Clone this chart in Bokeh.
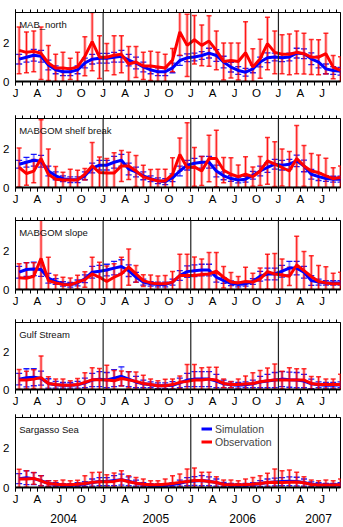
from bokeh.plotting import figure
from bokeh.models import (Range1d, FixedTicker, LinearAxis, Span, Label,
                          ColumnDataSource, Legend, LegendItem)
from bokeh.layouts import column
from bokeh.embed import file_html
from bokeh.resources import INLINE

FONT = "Liberation Sans"

# ---- data -------------------------------------------------------------
n_months = 45  # Jan 2004 .. Sep 2007, monthly means
month_x = [i + 0.5 for i in range(n_months)]

quarter_ticks = [0, 3, 6, 9, 12, 15, 18, 21, 24, 27, 30, 33, 36, 39, 42]
quarter_labels = ["J", "A", "J", "O", "J", "A", "J", "O", "J", "A", "J", "O", "J", "A", "J"]
month_ticks = list(range(0, 45))
year_boundaries = [12, 24, 36]
year_pos = [6.6, 19.2, 31.1, 41.5]
year_labels = ["2004", "2005", "2006", "2007"]

names = ["MAB_north", "MABGOM shelf break", "MABGOM slope", "Gulf Stream", "Sargasso Sea"]

obs_mab_north = [1.6, 1.5, 1.55, 1.45, 0.95, 0.7, 0.7, 0.65, 0.75, 1.3, 2.05, 1.25,
                 1.25, 1.35, 1.4, 0.9, 1.0, 0.8, 0.8, 0.75, 0.7, 1.1,
                 2.55, 1.86, 2.15, 1.86, 2.08, 1.6, 1.03, 1.08, 1.03, 1.48, 0.74, 1.17,
                 1.95, 1.5, 1.4, 1.4, 1.5, 1.43, 1.26, 1.25, 1.43, 0.74, 0.57]
obs_err_mab_north = [1.2, 1.05, 1.05, 1.35, 0.9, 0.7, 0.8, 0.55, 0.75, 1.0, 1.5, 1.1,
                     0.7, 1.0, 0.95, 0.9, 0.8, 0.7, 0.75, 0.75, 0.7, 0.6,
                     1.2, 1.6, 1.25, 1.05, 1.3, 1.0, 0.95, 0.9, 0.95, 1.6, 0.95, 1.0,
                     1.35, 1.1, 1.0, 1.05, 1.1, 1.05, 0.9, 0.9, 1.05, 0.6, 0.7]
sim_mab_north = [1.15, 1.25, 1.35, 1.3, 0.85, 0.6, 0.5, 0.5, 0.6, 0.95, 1.15, 1.2,
                 1.2, 1.25, 1.3, 1.1, 0.95, 0.75, 0.6, 0.5, 0.5, 0.7,
                 1.08, 1.22, 1.26, 1.34, 1.46, 1.34, 1.0, 0.74, 0.57, 0.48, 0.65, 1.0,
                 1.22, 1.26, 1.22, 1.26, 1.46, 1.43, 1.17, 1.0, 0.65, 0.57, 0.53]
sim_err_mab_north = [0.25, 0.25, 0.3, 0.3, 0.25, 0.2, 0.2, 0.2, 0.2, 0.25, 0.25, 0.25,
                     0.25, 0.25, 0.3, 0.3, 0.3, 0.25, 0.2, 0.2, 0.2, 0.25,
                     0.25, 0.2, 0.2, 0.2, 0.25, 0.3, 0.3, 0.25, 0.2, 0.2, 0.2, 0.25, 0.25, 0.2,
                     0.2, 0.2, 0.25, 0.25, 0.3, 0.3, 0.25, 0.2, 0.2]

obs_shelf = [1.03, 0.72, 0.84, 1.49, 0.68, 0.43, 0.39, 0.39, 0.39, 0.68, 1.11, 0.77,
             0.74, 0.74, 1.11, 1.11, 0.85, 0.55, 0.43, 0.34, 0.34, 0.68,
             1.7, 1.03, 1.06, 0.85, 1.49, 1.49, 0.89, 0.68, 0.56, 0.68, 0.56, 0.85,
             1.37, 1.2, 1.03, 0.85, 1.49, 1.11, 0.85, 0.77, 0.6, 0.46, 0.51]
obs_err_shelf = [1.0, 0.6, 0.6, 2.0, 1.3, 0.65, 0.4, 0.55, 0.5, 0.3, 1.2, 0.8,
                 0.75, 1.05, 0.8, 0.7, 0.8, 0.6, 0.5, 0.6, 0.6, 0.85,
                 0.85, 2.3, 1.0, 0.75, 1.2, 1.45, 0.65, 0.85, 0.6, 0.9, 0.5, 0.75,
                 1.2, 1.15, 0.95, 1.0, 1.7, 1.05, 0.9, 0.9, 0.9, 0.55, 0.6]
sim_shelf = [1.2, 1.3, 1.4, 1.35, 0.85, 0.6, 0.45, 0.4, 0.4, 0.6, 1.0, 1.15,
             1.15, 1.3, 1.4, 0.95, 0.8, 0.6, 0.45, 0.35, 0.3, 0.5,
             0.85, 1.15, 1.25, 1.3, 1.3, 0.85, 0.6, 0.46, 0.39, 0.43, 0.63, 0.85,
             1.03, 1.2, 1.15, 1.2, 1.37, 1.11, 0.68, 0.56, 0.46, 0.43, 0.43]
sim_err_shelf = [0.2, 0.25, 0.3, 0.3, 0.25, 0.2, 0.15, 0.15, 0.15, 0.2, 0.25, 0.25,
                 0.25, 0.3, 0.3, 0.3, 0.25, 0.2, 0.15, 0.15, 0.15, 0.2,
                 0.25, 0.25, 0.25, 0.3, 0.3, 0.3, 0.2, 0.15, 0.15, 0.15, 0.2, 0.25, 0.25, 0.25,
                 0.25, 0.25, 0.3, 0.3, 0.25, 0.2, 0.15, 0.15, 0.15]

obs_slope = [0.6, 0.58, 0.68, 1.6, 0.46, 0.34, 0.26, 0.24, 0.38, 0.51, 0.8, 0.63,
             0.41, 0.63, 0.8, 1.15, 0.8, 0.46, 0.34, 0.29, 0.29, 0.38,
             0.72, 0.72, 0.72, 0.77, 0.8, 0.94, 0.63, 0.38, 0.34, 0.41, 0.38, 0.55,
             0.92, 0.8, 0.75, 0.68, 1.26, 0.97, 0.67, 0.41, 0.34, 0.29, 0.29]
obs_err_slope = [0.72, 0.8, 0.7, 2.0, 1.2, 0.4, 0.37, 0.35, 0.35, 0.4, 0.86, 0.77,
                 0.8, 0.7, 0.86, 0.93, 0.43, 0.3, 0.4, 0.4, 0.43, 0.55,
                 1.1, 1.1, 0.95, 0.8, 1.1, 0.97, 0.55, 0.5, 0.33, 0.74, 0.45, 0.55,
                 0.9, 1.05, 0.82, 0.47, 1.48, 0.98, 1.07, 0.82, 0.83, 0.55, 0.6]
sim_slope = [0.89, 1.03, 1.06, 1.03, 0.58, 0.41, 0.29, 0.24, 0.34, 0.55, 0.89, 0.94,
             1.0, 1.1, 1.18, 0.97, 0.63, 0.38, 0.29, 0.26, 0.26, 0.38,
             0.72, 0.92, 0.97, 1.0, 1.0, 0.63, 0.46, 0.32, 0.26, 0.29, 0.41, 0.68,
             0.8, 0.8, 0.94, 1.1, 1.1, 0.89, 0.46, 0.38, 0.34, 0.34, 0.34]
sim_err_slope = [0.3, 0.35, 0.35, 0.35, 0.25, 0.15, 0.12, 0.12, 0.15, 0.2, 0.3, 0.3,
                 0.3, 0.35, 0.35, 0.3, 0.25, 0.15, 0.12, 0.12, 0.12, 0.15,
                 0.25, 0.3, 0.3, 0.3, 0.3, 0.25, 0.15, 0.12, 0.12, 0.12, 0.15, 0.25, 0.3, 0.3,
                 0.3, 0.35, 0.35, 0.3, 0.25, 0.15, 0.12, 0.12, 0.12]

obs_gulf = [0.5, 0.5, 0.55, 0.63, 0.32, 0.26, 0.22, 0.22, 0.26, 0.38, 0.51, 0.51,
            0.5, 0.46, 0.58, 0.51, 0.43, 0.32, 0.26, 0.2, 0.2, 0.26, 0.38,
            0.43, 0.5, 0.5, 0.55, 0.5, 0.32, 0.26, 0.26, 0.29, 0.32, 0.41, 0.46,
            0.51, 0.5, 0.5, 0.5, 0.5, 0.32, 0.26, 0.26, 0.26, 0.26]
obs_err_gulf = [0.56, 0.47, 0.5, 1.15, 0.36, 0.29, 0.33, 0.24, 0.32, 0.51, 0.64, 0.6,
                0.78, 0.55, 0.4, 0.43, 0.5, 0.43, 0.29, 0.26, 0.34, 0.3, 0.34,
                0.9, 0.82, 0.65, 0.63, 0.68, 0.23, 0.17, 0.3, 0.43, 0.57, 0.6, 0.68,
                0.84, 0.47, 0.65, 0.6, 0.6, 0.37, 0.41, 0.29, 0.29, 0.55]
sim_gulf = [0.55, 0.62, 0.65, 0.6, 0.32, 0.25, 0.22, 0.22, 0.25, 0.35, 0.5, 0.55,
            0.5, 0.6, 0.7, 0.55, 0.4, 0.3, 0.25, 0.2, 0.2, 0.22, 0.35,
            0.5, 0.55, 0.55, 0.55, 0.45, 0.3, 0.25, 0.22, 0.25, 0.3, 0.4, 0.45, 0.5,
            0.55, 0.52, 0.5, 0.45, 0.3, 0.25, 0.22, 0.22, 0.25]
sim_err_gulf = [0.3, 0.48, 0.45, 0.37, 0.25, 0.18, 0.15, 0.15, 0.18, 0.25, 0.35, 0.4,
                0.4, 0.45, 0.5, 0.4, 0.3, 0.2, 0.15, 0.15, 0.15, 0.2, 0.25,
                0.35, 0.4, 0.4, 0.4, 0.35, 0.2, 0.15, 0.15, 0.15, 0.2, 0.3, 0.35, 0.4,
                0.4, 0.4, 0.4, 0.35, 0.25, 0.15, 0.15, 0.15, 0.15]

obs_sargasso = [0.43, 0.43, 0.46, 0.34, 0.2, 0.17, 0.14, 0.14, 0.17, 0.2, 0.26, 0.29,
                0.29, 0.31, 0.39, 0.29, 0.22, 0.17, 0.14, 0.14, 0.17, 0.2, 0.26,
                0.3, 0.35, 0.35, 0.3, 0.25, 0.15, 0.14, 0.14, 0.15, 0.17, 0.2, 0.25, 0.27,
                0.25, 0.27, 0.28, 0.24, 0.15, 0.13, 0.13, 0.13, 0.14]
obs_err_sargasso = [0.5, 0.42, 0.3, 0.26, 0.14, 0.17, 0.24, 0.2, 0.2, 0.4, 0.5, 0.48,
                    0.36, 0.42, 0.46, 0.31, 0.29, 0.26, 0.2, 0.2, 0.26, 0.4, 0.42,
                    0.64, 0.64, 0.42, 0.47, 0.3, 0.23, 0.24, 0.2, 0.28, 0.34, 0.4, 0.47, 0.67,
                    0.6, 0.62, 0.49, 0.31, 0.23, 0.21, 0.25, 0.21, 0.29]
sim_sargasso = [0.45, 0.5, 0.45, 0.35, 0.2, 0.15, 0.12, 0.12, 0.14, 0.18, 0.25, 0.3,
                0.3, 0.35, 0.4, 0.32, 0.22, 0.15, 0.12, 0.1, 0.12, 0.15, 0.22,
                0.3, 0.33, 0.35, 0.32, 0.25, 0.16, 0.13, 0.12, 0.13, 0.15, 0.2, 0.25, 0.28,
                0.3, 0.32, 0.3, 0.25, 0.17, 0.14, 0.13, 0.13, 0.15]
sim_err_sargasso = [0.25, 0.35, 0.3, 0.25, 0.15, 0.1, 0.08, 0.08, 0.1, 0.12, 0.18, 0.2,
                    0.2, 0.25, 0.28, 0.22, 0.15, 0.1, 0.08, 0.08, 0.08, 0.1, 0.15,
                    0.2, 0.22, 0.25, 0.22, 0.18, 0.1, 0.08, 0.08, 0.08, 0.1, 0.15, 0.18, 0.2,
                    0.2, 0.22, 0.22, 0.18, 0.12, 0.1, 0.08, 0.08, 0.1]

panels = [
    (names[0], sim_mab_north, sim_err_mab_north, obs_mab_north, obs_err_mab_north),
    (names[1], sim_shelf, sim_err_shelf, obs_shelf, obs_err_shelf),
    (names[2], sim_slope, sim_err_slope, obs_slope, obs_err_slope),
    (names[3], sim_gulf, sim_err_gulf, obs_gulf, obs_err_gulf),
    (names[4], sim_sargasso, sim_err_sargasso, obs_sargasso, obs_err_sargasso),
]
# layout: (top border, frame height, bottom border) per panel
tops = [12, 6, 6, 6, 6]
frames = [69, 69, 69, 67, 70]
bottoms = [31, 27, 27, 22, 39]

BLUE = "#0000ff"
RED = "#ff0000"


def style_month_axis(ax, labels=True):
    ax.axis_line_color = "black"
    ax.major_tick_line_color = "black"
    ax.minor_tick_line_color = "black"
    ax.major_tick_in = 0
    ax.minor_tick_in = 0
    if labels:
        ax.major_tick_out = 4
        ax.minor_tick_out = 4
        ax.major_label_overrides = {t: l for t, l in zip(quarter_ticks, quarter_labels)}
        ax.major_label_text_font = FONT
        ax.major_label_text_font_size = "11.5px"
        ax.major_label_text_color = "black"
        ax.major_label_standoff = 1
    else:
        ax.major_tick_out = 3
        ax.minor_tick_out = 3
        ax.major_label_text_font_size = "1px"
        ax.major_label_text_color = None
        ax.major_label_standoff = 0


figs = []
for k, (name, sim, sim_err, obs, obs_err) in enumerate(panels):
    last = k == len(panels) - 1
    h = tops[k] + frames[k] + bottoms[k]
    p = figure(width=342, height=h, output_backend="svg", toolbar_location=None,
               x_range=Range1d(0, 44.5), y_range=Range1d(0, 3.55),
               x_axis_type=None, y_axis_type=None,
               min_border_left=15, min_border_right=2, min_border_top=tops[k],
               min_border_bottom=bottoms[k])
    p.grid.visible = False
    p.outline_line_color = "black"
    p.outline_line_width = 1
    p.background_fill_color = "white"

    src = ColumnDataSource(dict(
        x=month_x,
        sim=sim, slo=[max(0.0, v - e) for v, e in zip(sim, sim_err)],
        shi=[v + e for v, e in zip(sim, sim_err)],
        obs=obs, olo=[max(0.0, v - e) for v, e in zip(obs, obs_err)],
        ohi=[v + e for v, e in zip(obs, obs_err)],
    ))

    # axes
    yax = LinearAxis(ticker=FixedTicker(ticks=[0, 2]))
    yax.major_tick_out = 0
    yax.major_tick_in = 0
    yax.minor_tick_line_color = None
    yax.axis_line_color = "black"
    yax.major_label_text_font = FONT
    yax.major_label_text_font_size = "11.5px"
    yax.major_label_text_color = "black"
    yax.major_label_standoff = 6
    p.add_layout(yax, "left")

    bax = LinearAxis(ticker=FixedTicker(ticks=quarter_ticks, minor_ticks=month_ticks))
    style_month_axis(bax, labels=True)
    bax.axis_line_width = 2
    p.add_layout(bax, "below")

    tax = LinearAxis(ticker=FixedTicker(ticks=quarter_ticks, minor_ticks=month_ticks))
    style_month_axis(tax, labels=False)
    p.add_layout(tax, "above")

    if last:
        yr = LinearAxis(ticker=FixedTicker(ticks=year_pos, minor_ticks=[]))
        yr.major_label_overrides = {t: l for t, l in zip(year_pos, year_labels)}
        yr.axis_line_color = None
        yr.major_tick_line_color = None
        yr.minor_tick_line_color = None
        yr.major_tick_out = 0
        yr.major_label_standoff = 6
        yr.major_label_text_font = FONT
        yr.major_label_text_font_size = "12px"
        yr.major_label_text_color = "black"
        p.add_layout(yr, "below")

    for yb in year_boundaries:
        p.add_layout(Span(location=yb, dimension="height", line_color="#222222",
                          line_width=1.2))

    # error bars
    p.segment(x0="x", y0="slo", x1="x", y1="shi", source=src,
              line_color=BLUE, line_alpha=0.45, line_width=2)
    p.scatter(x="x", y="shi", source=src, marker="dash", size=6,
              line_color=BLUE, line_width=1.3, line_alpha=0.9)
    p.scatter(x="x", y="slo", source=src, marker="dash", size=6,
              line_color=BLUE, line_width=1.3, line_alpha=0.9)

    p.segment(x0="x", y0="olo", x1="x", y1="ohi", source=src,
              line_color=RED, line_alpha=0.35, line_width=3)
    p.segment(x0="x", y0="olo", x1="x", y1="ohi", source=src,
              line_color=RED, line_alpha=0.9, line_width=1)
    p.scatter(x="x", y="ohi", source=src, marker="dash", size=5,
              line_color=RED, line_width=1.5, line_alpha=0.8)
    p.scatter(x="x", y="olo", source=src, marker="dash", size=5,
              line_color=RED, line_width=1.5, line_alpha=0.8)

    sim_line = p.line(x="x", y="sim", source=src, line_color=BLUE, line_width=3)
    obs_line = p.line(x="x", y="obs", source=src, line_color=RED, line_width=3)

    p.add_layout(Label(x=0.5, y=2.93, text=name, text_font=FONT,
                       text_font_size="9.5px", text_baseline="middle",
                       text_color="#111111"))

    if last:
        legend = Legend(items=[LegendItem(label="Simulation", renderers=[sim_line]),
                               LegendItem(label="Observation", renderers=[obs_line])],
                        location=(186, 39))
        legend.padding = 0
        legend.margin = 0
        legend.spacing = 0
        legend.label_height = 13
        legend.glyph_height = 13
        legend.glyph_width = 11
        legend.label_standoff = 3
        legend.label_text_font = FONT
        legend.label_text_font_size = "10.5px"
        legend.border_line_color = None
        legend.background_fill_alpha = 0
        p.add_layout(legend)

    figs.append(p)

layout = column(*figs, spacing=0)
open("out.html", "w").write(file_html(layout, INLINE))
